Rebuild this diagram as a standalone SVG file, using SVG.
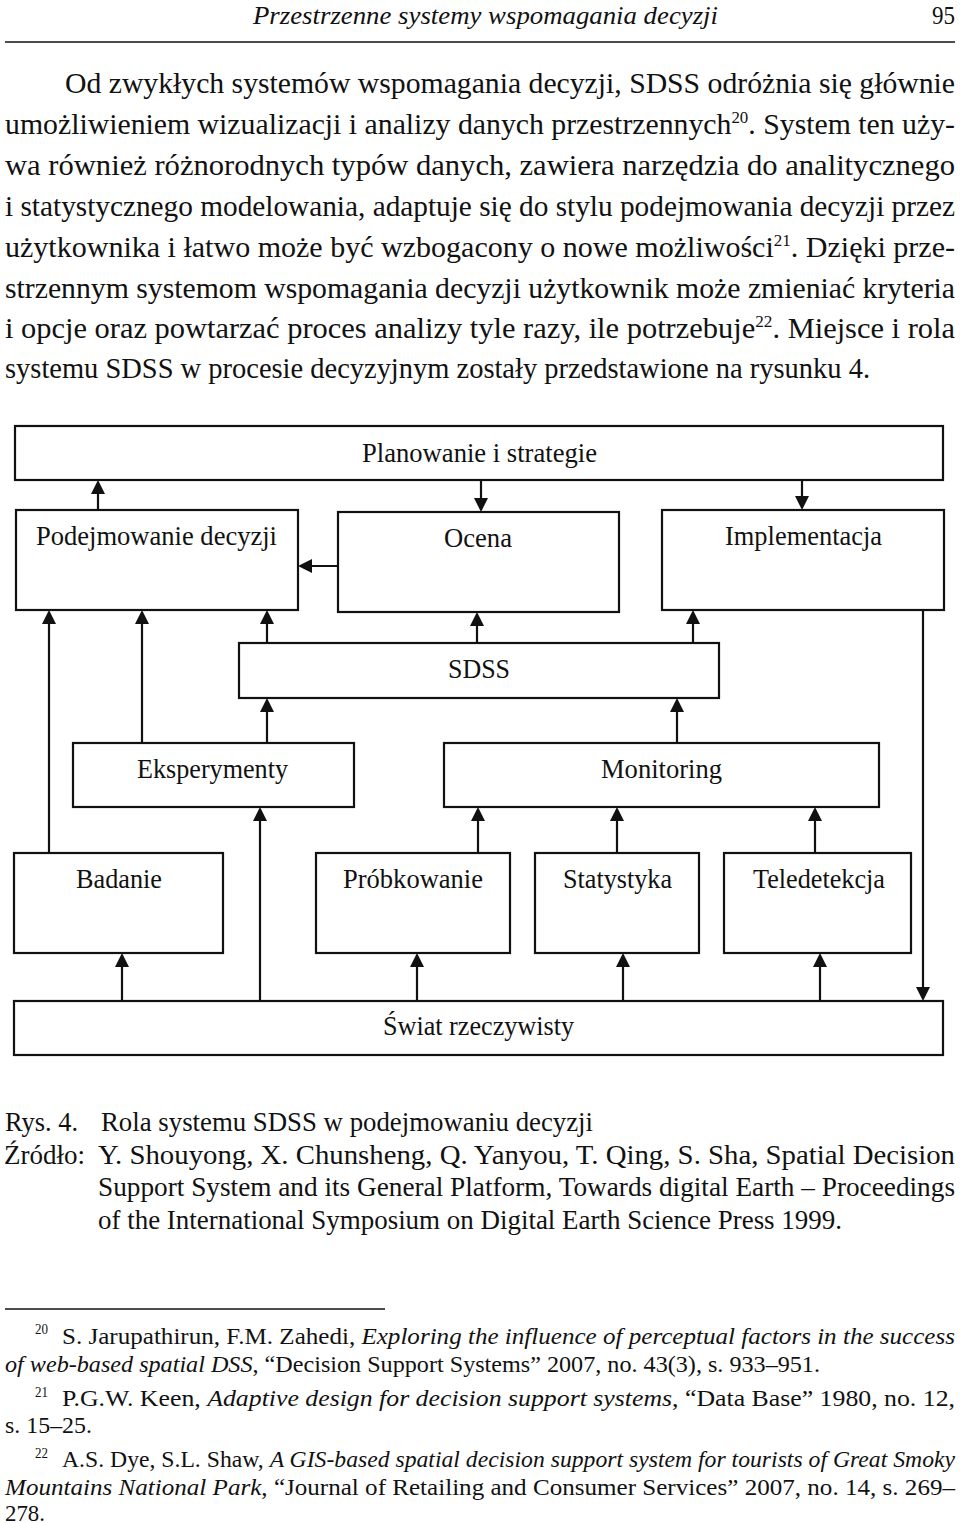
<svg xmlns="http://www.w3.org/2000/svg" width="960" height="1523" viewBox="0 0 960 1523">
<style>
text{font-family:"Liberation Serif","Times New Roman",serif;fill:#111}
.body{font-size:30px}
.lbl{font-size:27px}
.cap{font-size:27px}
.fn{font-size:23px}
.it{font-style:italic}
.box{fill:#fff;stroke:#111;stroke-width:2.2}
.con{fill:none;stroke:#111;stroke-width:2.2;marker-end:url(#ah)}
.rule{stroke:#111;stroke-width:1.5}
</style>
<defs>
<marker id="ah" markerUnits="userSpaceOnUse" markerWidth="14" markerHeight="14" refX="8" refY="7" orient="auto">
<path d="M0,0 L14,7 L0,14 Z" fill="#111"/>
</marker>
</defs>
<rect width="960" height="1523" fill="#fff"/>

<g id="page-header">
<text class="it" x="253" y="24" font-size="25" textLength="465" lengthAdjust="spacingAndGlyphs">Przestrzenne systemy wspomagania decyzji</text>
<text x="932" y="24" font-size="25" textLength="23" lengthAdjust="spacingAndGlyphs">95</text>
<line class="rule" x1="5" y1="42" x2="955" y2="42"/>
</g>

<g id="body-text" class="body">
<text x="65" y="93" textLength="890" lengthAdjust="spacingAndGlyphs">Od zwykłych systemów wspomagania decyzji, SDSS odróżnia się głównie</text>
<text x="5" y="134" textLength="950" lengthAdjust="spacingAndGlyphs">umożliwieniem wizualizacji i analizy danych przestrzennych<tspan font-size="17" dy="-11">20</tspan><tspan dy="11">. System ten uży-</tspan></text>
<text x="5" y="175" textLength="950" lengthAdjust="spacingAndGlyphs">wa również różnorodnych typów danych, zawiera narzędzia do analitycznego</text>
<text x="5" y="216" textLength="950" lengthAdjust="spacingAndGlyphs">i statystycznego modelowania, adaptuje się do stylu podejmowania decyzji przez</text>
<text x="5" y="257" textLength="950" lengthAdjust="spacingAndGlyphs">użytkownika i łatwo może być wzbogacony o nowe możliwości<tspan font-size="17" dy="-11">21</tspan><tspan dy="11">. Dzięki prze-</tspan></text>
<text x="5" y="298" textLength="950" lengthAdjust="spacingAndGlyphs">strzennym systemom wspomagania decyzji użytkownik może zmieniać kryteria</text>
<text x="5" y="338" textLength="950" lengthAdjust="spacingAndGlyphs">i opcje oraz powtarzać proces analizy tyle razy, ile potrzebuje<tspan font-size="17" dy="-11">22</tspan><tspan dy="11">. Miejsce i rola</tspan></text>
<text x="5" y="378" textLength="865" lengthAdjust="spacingAndGlyphs">systemu SDSS w procesie decyzyjnym zostały przedstawione na rysunku 4.</text>
</g>

<g id="connectors">
<line class="con" x1="98" y1="510" x2="98" y2="486"/>
<line class="con" x1="481" y1="480" x2="481" y2="506"/>
<line class="con" x1="802" y1="480" x2="802" y2="504"/>
<line class="con" x1="338" y1="566" x2="304" y2="566"/>
<line class="con" x1="49" y1="853" x2="49" y2="616"/>
<line class="con" x1="142" y1="743" x2="142" y2="616"/>
<line class="con" x1="267" y1="643" x2="267" y2="616"/>
<line class="con" x1="477" y1="643" x2="477" y2="618"/>
<line class="con" x1="693" y1="643" x2="693" y2="616"/>
<line class="con" x1="267" y1="743" x2="267" y2="704"/>
<line class="con" x1="677" y1="743" x2="677" y2="704"/>
<line class="con" x1="260" y1="1001" x2="260" y2="813"/>
<line class="con" x1="478" y1="853" x2="478" y2="813"/>
<line class="con" x1="617" y1="853" x2="617" y2="813"/>
<line class="con" x1="815" y1="853" x2="815" y2="813"/>
<line class="con" x1="122" y1="1001" x2="122" y2="959"/>
<line class="con" x1="417" y1="1001" x2="417" y2="959"/>
<line class="con" x1="623" y1="1001" x2="623" y2="959"/>
<line class="con" x1="820" y1="1001" x2="820" y2="959"/>
<line class="con" x1="923" y1="610" x2="923" y2="995"/>
</g>

<g id="planowanie">
<rect class="box" x="15" y="426" width="928" height="54"/>
<text class="lbl" x="362" y="462" textLength="235" lengthAdjust="spacingAndGlyphs">Planowanie i strategie</text>
</g>
<g id="podejmowanie">
<rect class="box" x="16" y="510" width="282" height="100"/>
<text class="lbl" x="36" y="545" textLength="241" lengthAdjust="spacingAndGlyphs">Podejmowanie decyzji</text>
</g>
<g id="ocena">
<rect class="box" x="338" y="512" width="281" height="100"/>
<text class="lbl" x="444" y="547" textLength="68" lengthAdjust="spacingAndGlyphs">Ocena</text>
</g>
<g id="implementacja">
<rect class="box" x="662" y="510" width="282" height="100"/>
<text class="lbl" x="725" y="545" textLength="157" lengthAdjust="spacingAndGlyphs">Implementacja</text>
</g>
<g id="sdss">
<rect class="box" x="239" y="643" width="480" height="55"/>
<text class="lbl" x="448" y="678" textLength="62" lengthAdjust="spacingAndGlyphs">SDSS</text>
</g>
<g id="eksperymenty">
<rect class="box" x="73" y="743" width="281" height="64"/>
<text class="lbl" x="137" y="778" textLength="151" lengthAdjust="spacingAndGlyphs">Eksperymenty</text>
</g>
<g id="monitoring">
<rect class="box" x="444" y="743" width="435" height="64"/>
<text class="lbl" x="601" y="778" textLength="121" lengthAdjust="spacingAndGlyphs">Monitoring</text>
</g>
<g id="badanie">
<rect class="box" x="14" y="853" width="209" height="100"/>
<text class="lbl" x="76" y="888" textLength="86" lengthAdjust="spacingAndGlyphs">Badanie</text>
</g>
<g id="probkowanie">
<rect class="box" x="316" y="853" width="194" height="100"/>
<text class="lbl" x="343" y="888" textLength="140" lengthAdjust="spacingAndGlyphs">Próbkowanie</text>
</g>
<g id="statystyka">
<rect class="box" x="535" y="853" width="164" height="100"/>
<text class="lbl" x="563" y="888" textLength="109" lengthAdjust="spacingAndGlyphs">Statystyka</text>
</g>
<g id="teledetekcja">
<rect class="box" x="724" y="853" width="187" height="100"/>
<text class="lbl" x="753" y="888" textLength="132" lengthAdjust="spacingAndGlyphs">Teledetekcja</text>
</g>
<g id="swiat">
<rect class="box" x="14" y="1001" width="929" height="54"/>
<text class="lbl" x="383" y="1035" textLength="191" lengthAdjust="spacingAndGlyphs">Świat rzeczywisty</text>
</g>

<g id="caption" class="cap">
<text x="5" y="1131" textLength="73" lengthAdjust="spacingAndGlyphs">Rys. 4.</text>
<text x="101" y="1131" textLength="492" lengthAdjust="spacingAndGlyphs">Rola systemu SDSS w podejmowaniu decyzji</text>
<text x="4" y="1164" textLength="81" lengthAdjust="spacingAndGlyphs">Źródło:</text>
<text x="98" y="1164" textLength="857" lengthAdjust="spacingAndGlyphs">Y. Shouyong, X. Chunsheng, Q. Yanyou, T. Qing, S. Sha, Spatial Decision</text>
<text x="98" y="1196" textLength="857" lengthAdjust="spacingAndGlyphs">Support System and its General Platform, Towards digital Earth – Proceedings</text>
<text x="98" y="1229" textLength="744" lengthAdjust="spacingAndGlyphs">of the International Symposium on Digital Earth Science Press 1999.</text>
</g>

<g id="footnotes" class="fn">
<line class="rule" x1="5" y1="1309" x2="385" y2="1309" stroke-width="1.2"/>
<text x="35" y="1334" font-size="15" textLength="13" lengthAdjust="spacingAndGlyphs">20</text>
<text x="62" y="1344" textLength="893" lengthAdjust="spacingAndGlyphs">S. Jarupathirun, F.M. Zahedi, <tspan class="it">Exploring the influence of perceptual factors in the success</tspan></text>
<text x="5" y="1372" textLength="815" lengthAdjust="spacingAndGlyphs"><tspan class="it">of web-based spatial DSS</tspan>, “Decision Support Systems” 2007, no. 43(3), s. 933–951.</text>
<text x="35" y="1397" font-size="15" textLength="13" lengthAdjust="spacingAndGlyphs">21</text>
<text x="62" y="1406" textLength="893" lengthAdjust="spacingAndGlyphs">P.G.W. Keen, <tspan class="it">Adaptive design for decision support systems</tspan>, “Data Base” 1980, no. 12,</text>
<text x="5" y="1433" textLength="87" lengthAdjust="spacingAndGlyphs">s. 15–25.</text>
<text x="35" y="1458" font-size="15" textLength="13" lengthAdjust="spacingAndGlyphs">22</text>
<text x="62" y="1467" textLength="893" lengthAdjust="spacingAndGlyphs">A.S. Dye, S.L. Shaw, <tspan class="it">A GIS-based spatial decision support system for tourists of Great Smoky</tspan></text>
<text x="5" y="1495" textLength="950" lengthAdjust="spacingAndGlyphs"><tspan class="it">Mountains National Park</tspan>, “Journal of Retailing and Consumer Services” 2007, no. 14, s. 269–</text>
<text x="5" y="1521" textLength="40" lengthAdjust="spacingAndGlyphs">278.</text>
</g>
</svg>
